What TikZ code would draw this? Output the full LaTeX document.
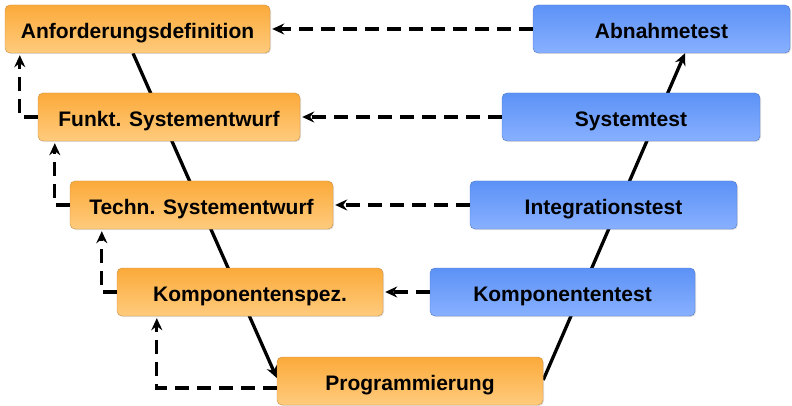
\documentclass[tikz,border=0pt]{standalone}
\usepackage{fontspec}
\setmainfont{Liberation Sans}
\usetikzlibrary{arrows.meta, positioning, shadows, backgrounds}
\definecolor{planorange}{RGB}{251,170,58}
\definecolor{planorangelt}{RGB}{255,203,125}
\definecolor{planorangedk}{RGB}{205,140,60}
\definecolor{testblue}{RGB}{92,146,246}
\definecolor{testbluelt}{RGB}{136,176,255}
\definecolor{testbluedk}{RGB}{80,120,200}

\begin{document}
\begin{tikzpicture}[
  x=1pt, y=-1pt,
  phase/.style={rectangle, rounded corners=5pt, inner sep=0pt, minimum height=48pt,
                text height=19pt, text depth=0pt,
                font=\fontsize{21}{23}\selectfont\bfseries,
                drop shadow={opacity=0.25, shadow xshift=1pt, shadow yshift=-1pt}},
  planbox/.style={phase, draw=planorangedk, top color=planorange, bottom color=planorangelt},
  testbox/.style={phase, draw=testbluedk, top color=testblue, bottom color=testbluelt},
  varr/.style={-{Stealth[length=12pt, width=11pt, inset=4pt]}, line width=3.3pt},
  back/.style={-{Stealth[length=12pt, width=11pt, inset=4pt]}, line width=3.3pt,
               dash pattern=on 14pt off 8pt, shorten >=2pt}
]
\useasboundingbox (0,0) rectangle (792,406);

% left branch
\node[planbox, minimum width=265pt] (anf)   at (137.5,29)  {Anforderungsdefinition};
\node[planbox, minimum width=262pt] (funkt) at (169,117)   {Funkt. Systementwurf};
\node[planbox, minimum width=263pt] (techn) at (201.5,205) {Techn. Systementwurf};
\node[planbox, minimum width=266pt] (kspez) at (250,292)   {Komponentenspez.};
\node[planbox, minimum width=266pt] (prog)  at (410,381)   {Programmierung};

% right branch
\node[testbox, minimum width=257pt] (abn)   at (661.5,29)  {Abnahmetest};
\node[testbox, minimum width=258pt] (syst)  at (631,117)   {Systemtest};
\node[testbox, minimum width=267pt] (integ) at (603.5,205) {Integrationstest};
\node[testbox, minimum width=265pt] (ktest) at (562.5,292) {Komponententest};

% the V
\begin{scope}[on background layer]
\draw[varr] ([xshift=-4.5pt]anf.south) -- ([yshift=3pt]prog.west);
\draw[varr] ([yshift=1pt]prog.east) -- ([xshift=23.5pt]abn.south);
\end{scope}

% test results back to the plan
\draw[back] (abn) -- (anf);
\draw[back] (syst) -- (funkt);
\draw[back] (integ) -- (techn);
\draw[back] (ktest) -- (kspez);

% feedback upwards
\draw[back] (funkt.west) -| ([xshift=15pt]anf.south west);
\draw[back] (techn.west) -| ([xshift=17pt]funkt.south west);
\draw[back] (kspez.west) -| ([xshift=32pt]techn.south west);
\draw[back] ([yshift=-7pt]prog.west) -| ([xshift=40pt]kspez.south west);
\end{tikzpicture}
\end{document}
